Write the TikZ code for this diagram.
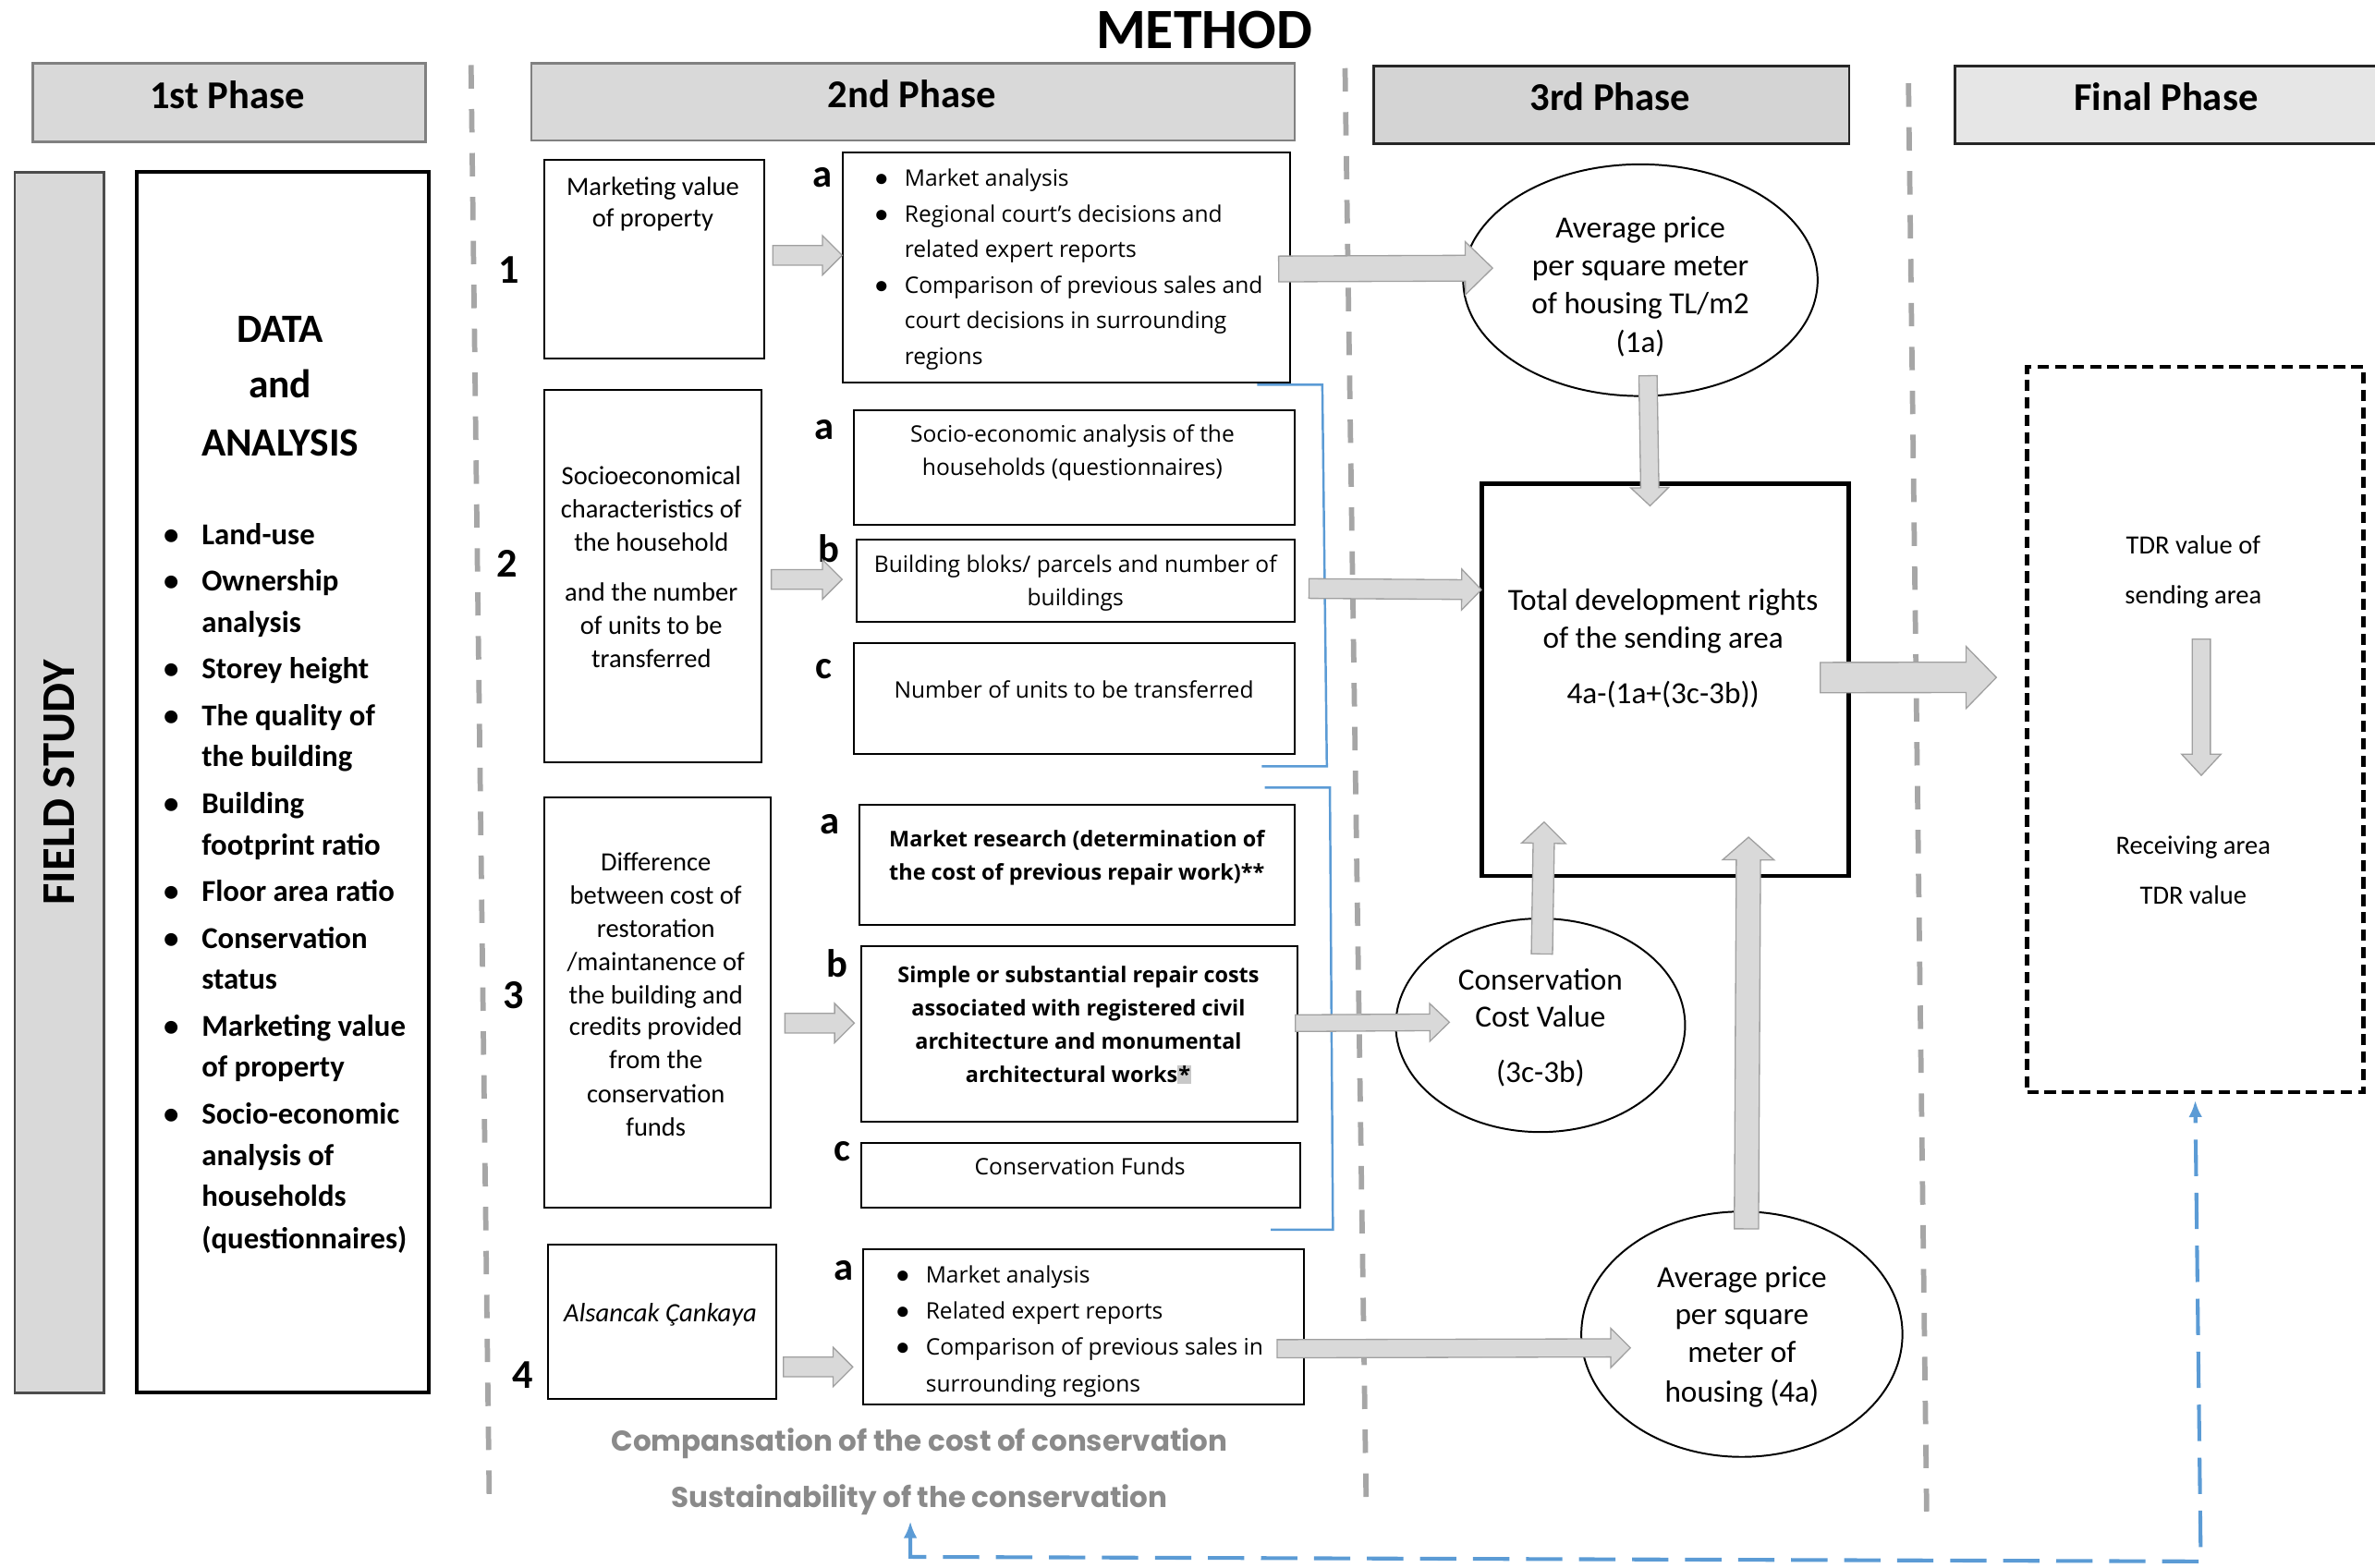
\documentclass[tikz,border=0pt]{standalone}
\usepackage{fontspec}
\setmainfont{Carlito}
\newfontfamily\boxfont{Open Sans}
\newfontfamily\gothic{Poppins}
\usetikzlibrary{calc,shapes.geometric,arrows.meta}

\definecolor{panel}{HTML}{D9D9D9}
\definecolor{panelthree}{HTML}{D4D4D4}
\definecolor{panelfinal}{HTML}{E6E6E6}
\definecolor{paneledge}{HTML}{808080}
\definecolor{arrowfill}{HTML}{D9D9D9}
\definecolor{arrowedge}{HTML}{A0A0A0}
\definecolor{divgray}{HTML}{A6A6A6}
\definecolor{fblue}{HTML}{5B9BD5}
\definecolor{softgray}{HTML}{8A8A8A}
\definecolor{hlgray}{HTML}{C8C8C8}

\tikzset{
  divider/.style={draw=divgray, line width=3.5pt, dash pattern=on 15.5pt off 13.5pt},
  phase/.style={anchor=north west, inner sep=0pt, line width=1.6pt},
  phasetext/.style={inner sep=0pt, anchor=mid, yshift=-6.5pt, font=\bfseries\fontsize{26}{30}\selectfont},
  box/.style={draw=black, line width=1.2pt, anchor=north west, inner sep=0pt},
  oval/.style={ellipse, draw=black, line width=1.2pt, inner sep=0pt},
  barrow/.style={fill=arrowfill, draw=arrowedge, line width=0.8pt, line join=miter},
  bracket/.style={draw=fblue, line width=1.5pt},
  feedback/.style={draw=fblue, line width=2.5pt, dash pattern=on 24pt off 11pt},
  num/.style={inner sep=0pt, font=\bfseries\fontsize{27}{30}\selectfont},
  tag/.style={inner sep=0pt, yshift=-2pt, font=\bfseries\fontsize{26}{30}\selectfont},
  cal/.style={inner sep=0pt, anchor=mid, yshift=-4.5pt, font=\fontsize{17.4}{20}\selectfont},
  calbig/.style={inner sep=0pt, anchor=mid, yshift=-4.5pt, font=\fontsize{20.3}{23}\selectfont},
  calsmall/.style={inner sep=0pt, anchor=mid, yshift=-4.5pt, font=\fontsize{17.4}{20}\selectfont},
  datahead/.style={inner sep=0pt, anchor=mid, yshift=-5.5pt, font=\bfseries\fontsize{26.5}{30}\selectfont},
  dataitem/.style={inner sep=0pt, anchor=mid west, yshift=-5pt, font=\bfseries\fontsize{20}{23}\selectfont},
  bodyc/.style={inner sep=0pt, anchor=mid, yshift=-3.5pt, font=\boxfont\fontsize{15}{18}\selectfont},
  bodyl/.style={inner sep=0pt, anchor=mid west, yshift=-3.5pt, font=\boxfont\fontsize{15}{18}\selectfont},
  bodyb/.style={inner sep=0pt, anchor=mid, yshift=-3.5pt, font=\boxfont\bfseries\fontsize{14.3}{17}\selectfont},
  dot/.style={inner sep=0pt, anchor=mid, yshift=-3.5pt, font=\bfseries\fontsize{16}{19}\selectfont},
  note/.style={inner sep=0pt, anchor=mid, yshift=-4pt, text=softgray, font=\gothic\bfseries\fontsize{18.9}{22}\selectfont},
}

% one text node per line: name prefix, x, style, list of y/text
\newcommand\stack[4]{%
  \foreach \yy/\linetext [count=\k] in {#4} {\node[#3] (#1-\k) at (#2,\yy) {\linetext};}}

% block arrow: from, to, shaft half width, head half width, head length
\newcommand\blockarrow[5]{%
  \coordinate (ba-s) at #1;
  \coordinate (ba-e) at #2;
  \coordinate (ba-h) at ($(ba-e)!#5pt!(ba-s)$);
  \filldraw[barrow]
    ($(ba-s)!#3pt!90:(ba-e)$) -- ($(ba-h)!#3pt!90:(ba-e)$) --
    ($(ba-h)!#4pt!90:(ba-e)$) -- (ba-e) --
    ($(ba-h)!#4pt!-90:(ba-e)$) -- ($(ba-h)!#3pt!-90:(ba-e)$) --
    ($(ba-s)!#3pt!-90:(ba-e)$) -- cycle;}

\begin{document}
\begin{tikzpicture}[x=1pt,y=-1pt]
\useasboundingbox (0,0) rectangle (1568,1035);
\clip (0,0) rectangle (1568,1035);

% phase dividers
\draw[divider] (311,43) -- (323,988);
\draw[divider] (888,45) -- (902,995);
\draw[divider] (1260,55) -- (1272,998);

% title and phase headers
\node[inner sep=0pt, font=\bfseries\fontsize{37.6}{42}\selectfont] (title) at (795,20) {METHOD};
\node[phase, draw=paneledge, fill=panel, minimum width=259, minimum height=52] (p1) at (21,41) {};
\node[phasetext] (p1t) at (150,63) {1st Phase};
\node[phase, draw=paneledge, fill=panel, minimum width=504, minimum height=51] (p2) at (350,41) {};
\node[phasetext] (p2t) at (602,62) {2nd Phase};
\node[phase, draw=black!85, fill=panelthree, minimum width=314, minimum height=51] (p3) at (906,43) {};
\node[phasetext] (p3t) at (1063,64) {3rd Phase};
\node[phase, draw=black!85, fill=panelfinal, minimum width=282, minimum height=51] (p4) at (1290,43) {};
\node[phasetext] (p4t) at (1430,64) {Final Phase};

% 1st phase
\node[anchor=north west, draw=black!70, fill=panel, line width=1.4pt, inner sep=0pt,
      minimum width=59, minimum height=806] (field) at (9,113) {};
\node[inner sep=0pt, rotate=90, font=\bfseries\fontsize{31}{34}\selectfont] (fieldtext) at (field.center) {FIELD STUDY};
\node[box, line width=2.5pt, minimum width=193, minimum height=806] (data) at (89,112) {};
\node[datahead] (dh1) at (185,218) {DATA};
\node[datahead] (dh2) at (185,255) {and};
\node[datahead] (dh3) at (185,293) {ANALYSIS};
\stack{di}{133}{dataitem}{352/Land-use,383/Ownership,410/analysis,441/Storey height,472/The quality of,499/the building,530/Building,557/footprint ratio,588/Floor area ratio,619/Conservation,646/status,677/Marketing value,704/of property,735/Socio-economic,762/analysis of,789/households,817/(questionnaires)}
\foreach \yy [count=\k] in {352,383,441,472,530,588,619,677,735}
  \node[dot, font=\bfseries\fontsize{20}{23}\selectfont, yshift=-1.5pt] (db-\k) at (113,\yy) {•};

% 2nd phase: row numbers
\node[num] (n1) at (336,178) {1};
\node[num] (n2) at (335,372) {2};
\node[num] (n3) at (339,657) {3};
\node[num] (n4) at (345,908) {4};

% 2nd phase: source boxes
\node[box, minimum width=145, minimum height=131] (m1) at (359,105) {};
\stack{m1t}{431}{cal}{122/Marketing value,143/of property}
\node[box, minimum width=143, minimum height=246] (m2) at (359,257) {};
\stack{m2t}{430}{cal}{313/Socioeconomical,335/characteristics of,357/the household,390/and the number,412/of units to be,434/transferred}
\node[box, minimum width=149, minimum height=271] (m3) at (359,526) {};
\stack{m3t}{433}{cal}{568/Difference,590/between cost of,612/restoration}
\node[cal] (m3slash) at (433,634) {/maintanence of};
\stack{m3u}{433}{cal}{656/the building and,677/credits provided,699/from the,721/conservation,743/funds}
\node[box, minimum width=151, minimum height=102] (m4) at (361,821) {};
\node[cal, font=\itshape\fontsize{17.5}{20}\selectfont] (m4t) at (436,866) {Alsancak Çankaya};

% 2nd phase: item letters
\node[tag] (t1a) at (543,115) {a};
\node[tag] (t2a) at (544,282) {a};
\node[tag] (t2b) at (547,360) {b};
\node[tag] (t2c) at (544,440) {c};
\node[tag] (t3a) at (548,542) {a};
\node[tag] (t3b) at (553,634) {b};
\node[tag] (t3c) at (556,758) {c};
\node[tag] (t4a) at (557,837) {a};

% 2nd phase: detail boxes
\node[box, minimum width=295, minimum height=152] (r1a) at (556,100) {};
\stack{r1at}{597}{bodyl}{117/Market analysis,141/Regional court’s decisions and,164/related expert reports,188/Comparison of previous sales and,211/court decisions in surrounding,235/regions}
\foreach \yy [count=\k] in {117,141,188} \node[dot] (r1ad-\k) at (582,\yy) {•};

\node[box, minimum width=291, minimum height=76] (r2a) at (563,270) {};
\stack{r2at}{708}{bodyc}{286/Socio-economic analysis of the,308/households (questionnaires)}
\node[box, minimum width=289, minimum height=54] (r2b) at (565,356) {};
\node[bodyc] (r2bt-1) at (710,372) {Building bloks/ parcels and number of};
\node[bodyc] (r2bt-2) at (710,394) {buildings};
\node[box, minimum width=291, minimum height=73] (r2c) at (563,424) {};
\node[bodyc] (r2ct) at (709,455) {Number of units to be transferred};

\node[box, minimum width=287, minimum height=79] (r3a) at (567,531) {};
\stack{r3at}{711}{bodyb}{553/Market research (determination of,575/the cost of previous repair work)**}
\node[box, minimum width=288, minimum height=116] (r3b) at (568,624) {};
\stack{r3bt}{712}{bodyb}{643/Simple or substantial repair costs,665/associated with registered civil,687/architecture and monumental,709/architectural works{\setlength\fboxsep{0.6pt}\colorbox{hlgray}{*}}}
\node[box, minimum width=290, minimum height=43] (r3c) at (568,754) {};
\node[bodyc] (r3ct) at (713,770) {Conservation Funds};

\node[box, minimum width=291, minimum height=103] (r4a) at (569,824) {};
\stack{r4at}{611}{bodyl}{841/Market analysis,865/Related expert reports,889/Comparison of previous sales in,913/surrounding regions}
\foreach \yy [count=\k] in {841,865,889} \node[dot] (r4ad-\k) at (596,\yy) {•};

% grouping brackets
\draw[bracket] (830,254) -- (873,254) -- (876,506) -- (833,506);
\draw[bracket] (835,520) -- (878,520) -- (880,812) -- (839,812);

% bottom notes
\node[note] (comp) at (607,952) {Compansation of the cost of conservation};
\node[note] (sust) at (607,989) {Sustainability of the conservation};

% 3rd phase
\node[oval, minimum width=234, minimum height=153] (e1) at (1083,185) {};
\stack{e1t}{1083}{calbig}{150/Average price,175/per square meter}
\node[calbig] (e1t-3) at (1083,200) {of housing TL/m2};
\node[calbig] (e1t-4) at (1083,226) {(1a)};
\node[box, line width=2.8pt, minimum width=242, minimum height=259] (T) at (977,318) {};
\stack{Tt}{1098}{calbig}{396/Total development rights,421/of the sending area,458/4a-(1a+(3c-3b))}
\node[oval, minimum width=191, minimum height=141] (ec) at (1017,677) {};
\stack{ect}{1017}{calbig}{647/Conservation,671/Cost Value,708/(3c-3b)}
\node[oval, minimum width=212, minimum height=162] (e4) at (1150,881) {};
\stack{e4t}{1150}{calbig}{843/Average price,868/per square,893/meter of,919/housing (4a)}

% final phase
\node[box, line width=2.6pt, dash pattern=on 7.5pt off 4pt, minimum width=222, minimum height=479] (F) at (1337,241) {};
\stack{Ft}{1448}{calsmall}{359/TDR value of,392/sending area,557/Receiving area,590/TDR value}

% block arrows
\blockarrow{($(m1.east)+(5,-2.5)$)}{($(r1a.west)+(0,-8)$)}{6.5}{13}{13}
\blockarrow{($(m2.east)+(6,2)$)}{($(r2b.west)+(-9,-1)$)}{6.5}{13}{13}
\blockarrow{($(m3.east)+(9,13.5)$)}{($(r3b.west)+(-4,-7)$)}{6.5}{13}{13}
\blockarrow{($(m4.east)+(4,30)$)}{($(r4a.west)+(-6,26.5)$)}{6.5}{13}{13}
\blockarrow{($(r1a.east)+(-8,1)$)}{($(e1.west)+(20,-8)$)}{8.5}{17.5}{18}
\blockarrow{($(r2b.east)+(9,5)$)}{($(T.west)+(1,-59.5)$)}{6.5}{13.5}{13}
\blockarrow{($(r3b.east)+(-2,-7)$)}{($(ec.west)+(36,-2)$)}{5.5}{12.5}{13}
\blockarrow{($(r4a.east)+(-18,14.5)$)}{($(e4.west)+(33,9)$)}{6}{13}{13}
\blockarrow{($(e1.south)+(5,-14)$)}{($(T.north)+(-10,16)$)}{6}{12.5}{12}
\blockarrow{($(ec.north)+(1,24)$)}{($(T.south)+(-80,-37)$)}{7}{14.5}{14}
\blockarrow{($(e4.north)+(3,12)$)}{($(T.south)+(55,-27)$)}{8}{17}{15}
\blockarrow{($(T.east)+(-20,-1.5)$)}{($(F.west)+(-19,-34.5)$)}{10}{20.5}{20}
\blockarrow{($(F.north)+(4,181)$)}{($(F.north)+(4,271)$)}{6}{13}{14}

% feedback loop
\coordinate (fb1) at (601,1028);
\coordinate (fb2) at (1453,1031);
\draw[feedback, {Latex[length=11pt,width=9pt]}-{Latex[length=11pt,width=9pt]}]
  ($(sust.south -| fb1)+(0,4)$) -- (fb1) -- (fb2) -- ($(F.south)+(0,4)$);
\end{tikzpicture}
\end{document}
